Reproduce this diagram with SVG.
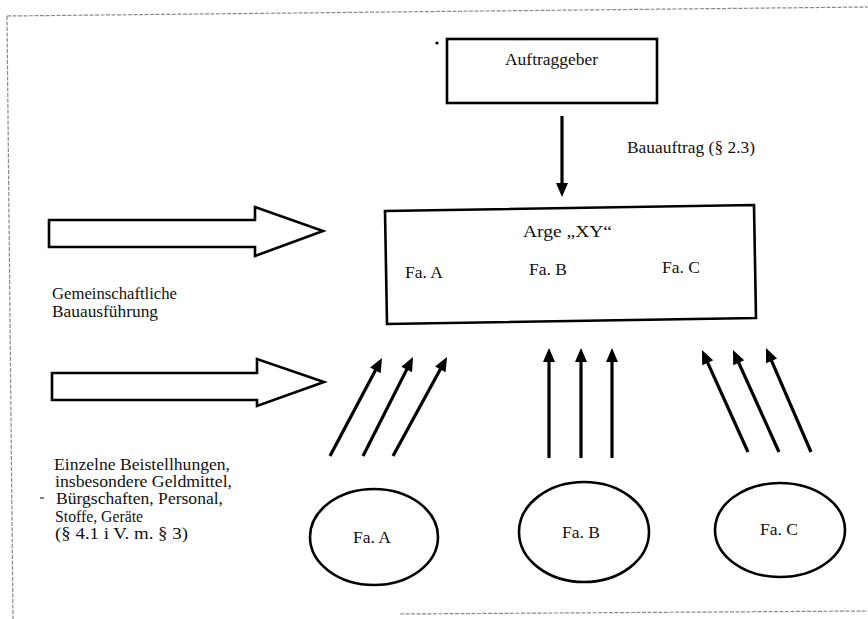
<svg xmlns="http://www.w3.org/2000/svg" width="868" height="619" viewBox="0 0 868 619" font-family="'Liberation Serif', 'Times New Roman', 'DejaVu Serif', serif">
<defs>
<style>
text{font-family:'Liberation Serif','Times New Roman','DejaVu Serif',serif;font-size:16px;fill:#111}
.box{fill:#fff;stroke:#000;stroke-width:2.6}
.conn{stroke:#000;stroke-width:3.2;fill:none}
.border{stroke:#8a8a8a;stroke-width:1.2;stroke-dasharray:4 1.5;fill:none}
.big{fill:#fff;stroke:#000;stroke-width:2.6;stroke-linejoin:miter}
</style>
<marker id="ah" markerUnits="userSpaceOnUse" markerWidth="16" markerHeight="12" refX="10" refY="6" orient="auto" overflow="visible">
<path d="M0,0 L14,6 L0,12 z" fill="#000"/>
</marker>
</defs>
<rect width="868" height="619" fill="#fff"/>
<g id="frame">
<line class="border" x1="7" y1="16" x2="868" y2="7"/>
<line class="border" x1="7" y1="16" x2="13" y2="619"/>
<line class="border" x1="400" y1="614" x2="868" y2="611"/>
<circle cx="437" cy="43" r="1.6" fill="#000"/>
<line x1="40" y1="498" x2="44" y2="498" stroke="#333" stroke-width="1.2"/>
</g>
<g id="auftraggeber">
<rect class="box" x="447" y="39" width="210" height="64"/>
<text x="505" y="65" textLength="93" lengthAdjust="spacingAndGlyphs">Auftraggeber</text>
</g>
<g id="arge">
<polygon class="box" points="385,211 754,205 756,318 387,324"/>
<text x="523" y="237" textLength="89" lengthAdjust="spacingAndGlyphs">Arge „XY“</text>
<text x="405" y="278" textLength="38" lengthAdjust="spacingAndGlyphs">Fa. A</text>
<text x="529" y="275" textLength="38" lengthAdjust="spacingAndGlyphs">Fa. B</text>
<text x="662" y="273" textLength="38" lengthAdjust="spacingAndGlyphs">Fa. C</text>
</g>
<g id="firmaA">
<ellipse class="box" cx="374" cy="537" rx="64" ry="48"/>
<text x="353" y="543" textLength="38" lengthAdjust="spacingAndGlyphs">Fa. A</text>
</g>
<g id="firmaB">
<ellipse class="box" cx="584" cy="532" rx="65" ry="50"/>
<text x="562" y="538" textLength="38" lengthAdjust="spacingAndGlyphs">Fa. B</text>
</g>
<g id="firmaC">
<ellipse class="box" cx="780" cy="530" rx="65" ry="47"/>
<text x="760" y="535" textLength="38" lengthAdjust="spacingAndGlyphs">Fa. C</text>
</g>
<g id="labels">
<text x="627" y="153" textLength="128" lengthAdjust="spacingAndGlyphs">Bauauftrag (§ 2.3)</text>
<text x="52" y="299" textLength="125" lengthAdjust="spacingAndGlyphs">Gemeinschaftliche</text>
<text x="52" y="317" textLength="106" lengthAdjust="spacingAndGlyphs">Bauausführung</text>
<text x="54" y="470" textLength="176" lengthAdjust="spacingAndGlyphs">Einzelne Beistellhungen,</text>
<text x="55" y="487" textLength="177" lengthAdjust="spacingAndGlyphs">insbesondere Geldmittel,</text>
<text x="56" y="504" textLength="167" lengthAdjust="spacingAndGlyphs">Bürgschaften, Personal,</text>
<text x="55" y="522" textLength="88" lengthAdjust="spacingAndGlyphs">Stoffe, Geräte</text>
<text x="55" y="539" textLength="133" lengthAdjust="spacingAndGlyphs">(§ 4.1 i V. m. § 3)</text>
</g>
<g id="connectors">
<polygon class="big" points="49,220 255,220 255,207 323,231 255,256 255,247 49,247"/>
<polygon class="big" points="52,373 257,373 257,359 324,382 257,406 257,400 52,400"/>
<line class="conn" x1="562" y1="116" x2="562" y2="193" marker-end="url(#ah)"/>
<line class="conn" x1="330" y1="456" x2="380.1" y2="361.5" marker-end="url(#ah)"/>
<line class="conn" x1="363" y1="456" x2="411.2" y2="360.6" marker-end="url(#ah)"/>
<line class="conn" x1="393" y1="456" x2="445.1" y2="360.5" marker-end="url(#ah)"/>
<line class="conn" x1="549" y1="458" x2="549" y2="352" marker-end="url(#ah)"/>
<line class="conn" x1="581" y1="458" x2="581" y2="352" marker-end="url(#ah)"/>
<line class="conn" x1="612" y1="458" x2="612" y2="352" marker-end="url(#ah)"/>
<line class="conn" x1="748" y1="452" x2="703.6" y2="353.6" marker-end="url(#ah)"/>
<line class="conn" x1="779" y1="452" x2="734.6" y2="353.6" marker-end="url(#ah)"/>
<line class="conn" x1="811" y1="452" x2="767.6" y2="351.7" marker-end="url(#ah)"/>
</g>
</svg>
